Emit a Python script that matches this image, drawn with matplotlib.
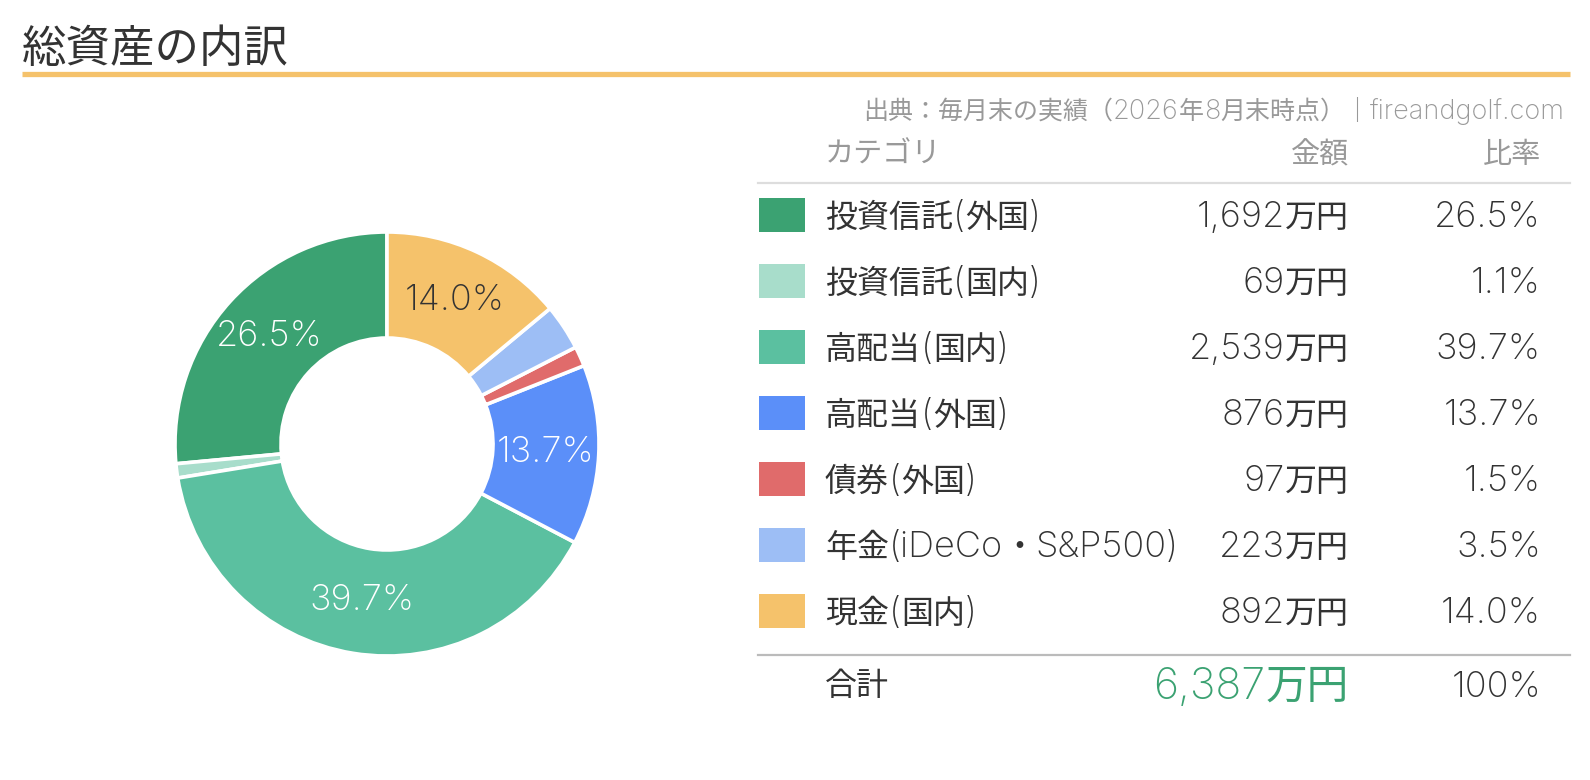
import matplotlib
matplotlib.use("Agg")
import matplotlib.pyplot as plt
from matplotlib.patches import Rectangle

plt.rcParams['font.family'] = ['Inter', 'Noto Sans CJK JP', 'DejaVu Sans']

# data
categories = ['投資信託(外国)', '投資信託(国内)', '高配当(国内)', '高配当(外国)',
              '債券(外国)', '年金(iDeCo・S&P500)', '現金(国内)']
amounts = [1692, 69, 2539, 876, 97, 223, 892]          # 万円
shares = [26.5, 1.1, 39.7, 13.7, 1.5, 3.5, 14.0]       # %
total_amount = 6387
total_share = 100
colors = ['#3BA272', '#A8DDCB', '#5BC0A0', '#5B8FF9', '#E06B6B', '#9DBEF5', '#F5C26B']

title = '総資産の内訳'
source = '出典：毎月末の実績（2026年8月末時点）｜fireandgolf.com'
headers = ['カテゴリ', '金額', '比率']

W, H = 1590, 780
TXT = '#333333'
GRAY = '#999999'
CJK = ['Noto Sans CJK JP', 'DejaVu Sans']
LAT = ['Inter', 'DejaVu Sans']

fig = plt.figure(figsize=(W / 100, H / 100), dpi=100)
fig.patch.set_facecolor('white')
renderer = fig.canvas.get_renderer()

# overlay in pixel coords for title and table
ov = fig.add_axes([0, 0, 1, 1])
ov.set_xlim(0, W)
ov.set_ylim(H, 0)
ov.axis('off')


def split_runs(s):
    runs = []
    for ch in s:
        cjk = ord(ch) >= 0x2E80
        if runs and runs[-1][0] == cjk:
            runs[-1][1] += ch
        else:
            runs.append([cjk, ch])
    return runs


def mixed_text(x, base, s, size_cjk, size_lat, color, ha='left'):
    # CJK and latin parts drawn with their own font and size, on one baseline
    items = []
    for cjk, part in split_runs(s):
        if cjk:
            t = ov.text(0, base, part, fontsize=size_cjk, family=CJK, color=color, va='baseline')
        else:
            t = ov.text(0, base, part, fontsize=size_lat, family=LAT, weight='light',
                        color=color, va='baseline')
        items.append((t, t.get_window_extent(renderer).width))
    total = sum(w for _, w in items)
    cur = x - total if ha == 'right' else x
    for t, w in items:
        t.set_x(cur)
        cur += w


ov.text(22, 49, title, fontsize=32, family=CJK, color=TXT, va='center', ha='left')
ov.plot([22, 1570], [74, 74], color='#F5C26B', lw=3.8, solid_capstyle='butt')
mixed_text(1565, 119, source, 18, 19.5, GRAY, ha='right')

# table
x_cat, x_amt, x_pct = 825, 1349, 1541
ov.text(x_cat, 155, headers[0], fontsize=21, family=CJK, color=GRAY, va='center', ha='left')
ov.text(x_amt, 155, headers[1], fontsize=21, family=CJK, color=GRAY, va='center', ha='right')
ov.text(x_pct, 155, headers[2], fontsize=21, family=CJK, color=GRAY, va='center', ha='right')
ov.plot([758, 1570], [183, 183], color='#DDDDDD', lw=1.6)

row0, step = 215, 66
for i, (cat, amt, pct, c) in enumerate(zip(categories, amounts, shares, colors)):
    y = row0 + i * step
    ov.add_patch(Rectangle((759, y - 17), 46, 34, facecolor=c, edgecolor='none'))
    mixed_text(x_cat, y + 12, cat, 23, 26, TXT)
    mixed_text(x_amt, y + 12, f'{amt:,}万円', 23, 26, TXT, ha='right')
    mixed_text(x_pct, y + 12, f'{pct:.1f}%', 23, 26, TXT, ha='right')

ov.plot([758, 1570], [655, 655], color='#BBBBBB', lw=1.6)
ov.text(x_cat, 686, '合計', fontsize=23, family=CJK, color=TXT, va='center', ha='left')
mixed_text(x_amt, 699, f'{total_amount:,}万円', 30, 31, '#3BA272', ha='right')
mixed_text(x_pct, 697, f'{total_share}%', 23, 26, TXT, ha='right')

# donut
cx, cy, r = 387, 444, 212
ax = fig.add_axes([(cx - r) / W, (H - cy - r) / H, 2 * r / W, 2 * r / H])
wedges, _, autotexts = ax.pie(
    amounts, colors=colors, startangle=90, counterclock=True,
    autopct=lambda p: f'{p:.1f}%' if p > 5 else '',
    pctdistance=0.75,
    wedgeprops=dict(width=0.5, edgecolor='white', linewidth=2.6),
    textprops=dict(fontsize=26, color='white', family=LAT, weight='light'))
for t, s, c in zip(autotexts, shares, colors):
    if s > 5:
        t.set_text(f'{s:.1f}%')
    if c == '#F5C26B':
        t.set_color(TXT)
ax.set_xlim(-1, 1)
ax.set_ylim(-1, 1)

fig.savefig('out.png', dpi=100, facecolor='white')
